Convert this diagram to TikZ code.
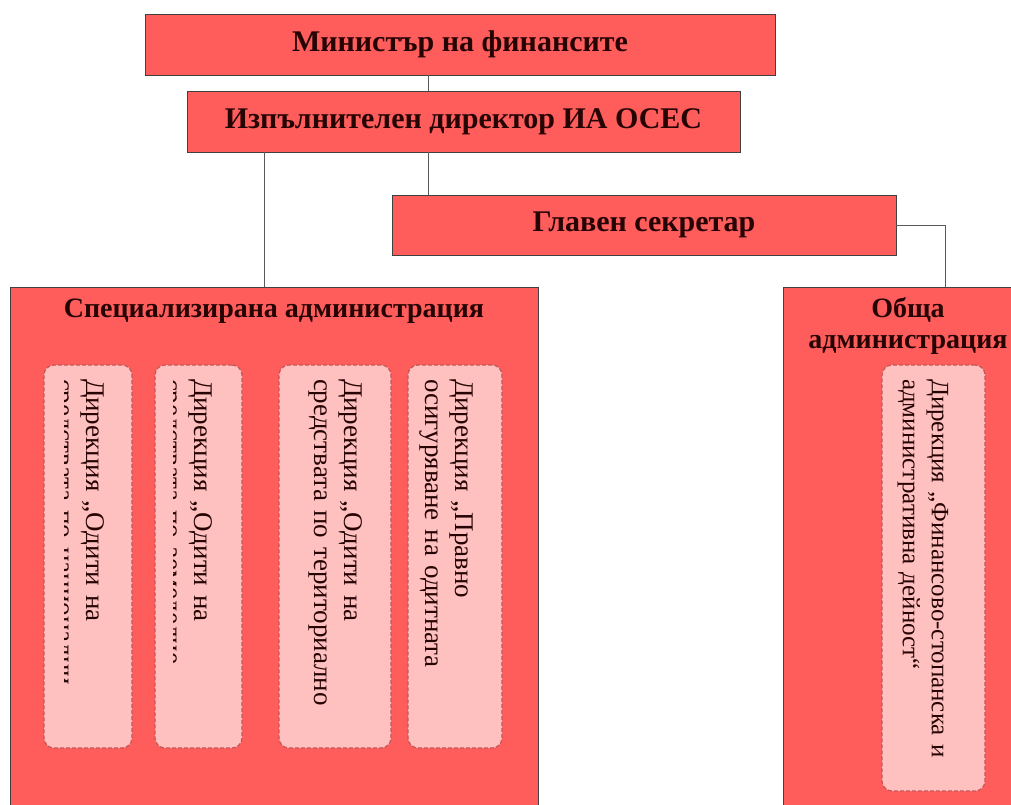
\documentclass[tikz,border=0pt]{standalone}
\usepackage{fontspec}
\setmainfont{Liberation Serif}
\usetikzlibrary{positioning}
\definecolor{boxred}{RGB}{255,92,92}
\definecolor{boxpink}{RGB}{255,192,192}
\definecolor{dashred}{RGB}{196,86,86}
\definecolor{inkred}{RGB}{38,4,4}
\tikzstyle{head} = [rectangle, draw=black!75, line width=0.9pt, fill=boxred, text=inkred, font=\fontsize{30}{34}\selectfont\bfseries, inner sep=0pt]
\tikzstyle{unit} = [rectangle, draw=black!75, line width=0.9pt, fill=boxred, inner sep=0pt]
\tikzstyle{title} = [text=inkred, font=\fontsize{28}{31}\selectfont\bfseries, align=center, inner sep=0pt]
\tikzstyle{dir} = [rectangle, rounded corners=10pt, dashed, dash pattern=on 4pt off 2pt, draw=dashred, line width=1.2pt, fill=boxpink]
\tikzstyle{dirtext} = [rotate=-90, text=inkred, font=\fontsize{27}{30}\selectfont, align=left, inner sep=0pt]
\tikzstyle{link} = [draw=black!65, line width=0.9pt]

\begin{document}
\begin{tikzpicture}[x=1pt, y=-1pt]
    \clip (0,0) rectangle (1011,805);
    \fill[white] (0,0) rectangle (1011,805);
    % top of the chart
    \node[head, minimum width=630, minimum height=61] (minister) at (460,44.5) {Министър на финансите};
    \node[head, minimum width=553, minimum height=61] (director) at (463.5,121.5) {Изпълнителен директор ИА ОСЕС};
    \node[head, minimum width=504, minimum height=60] (secretary) at (644,225) {Главен секретар};
    % the two administrations
    \node[unit, minimum width=528, minimum height=540] (spec) at (274,557) {};
    \node[unit, minimum width=250, minimum height=540] (common) at (908,557) {};
    \node[title] (spectitle) at (274,311) {Специализирана администрация};
    \node[title] (commontitle) at (908,326) {Обща\\администрация};
    % directorates
    \node[dir, minimum width=88, minimum height=383] (d1) at (88,556.5) {};
    \node[dir, minimum width=87, minimum height=383] (d2) at (198.5,556.5) {};
    \node[dir, minimum width=112, minimum height=383] (d3) at (335,556.5) {};
    \node[dir, minimum width=94, minimum height=383] (d4) at (455,556.5) {};
    \node[dir, minimum width=103, minimum height=426] (d5) at (933.5,578) {};
    \begin{scope}
        \clip (64,365) rectangle (132,748);
        \node[dirtext, text width=355] (t1) at (78,556.5) {Дирекция „Одити на\\средствата по национални};
    \end{scope}
    \begin{scope}
        \clip (173,365) rectangle (242,748);
        \node[dirtext, text width=355] (t2) at (186,556.5) {Дирекция „Одити на\\средствата по земеделие};
    \end{scope}
    \node[dirtext, text width=355] (t3) at (336,556.5) {Дирекция „Одити на\\средствата по териториално};
    \node[dirtext, text width=355] (t4) at (446,556.5) {Дирекция „Правно\\осигуряване на одитната};
    \node[dirtext, text width=398, font=\fontsize{25}{29}\selectfont] (t5) at (923,578) {Дирекция „Финансово-стопанска и\\административна дейност“};
    % connectors
    \coordinate (upx) at (428,0);
    \coordinate (specx) at (264,0);
    \coordinate (commonx) at (945,0);
    \draw[link] (minister.south -| upx) -- (director.north -| upx);
    \draw[link] (director.south -| upx) -- (secretary.north -| upx);
    \draw[link] (director.south -| specx) -- (spec.north -| specx);
    \draw[link] (secretary.east) -| (common.north -| commonx);
\end{tikzpicture}
\end{document}
